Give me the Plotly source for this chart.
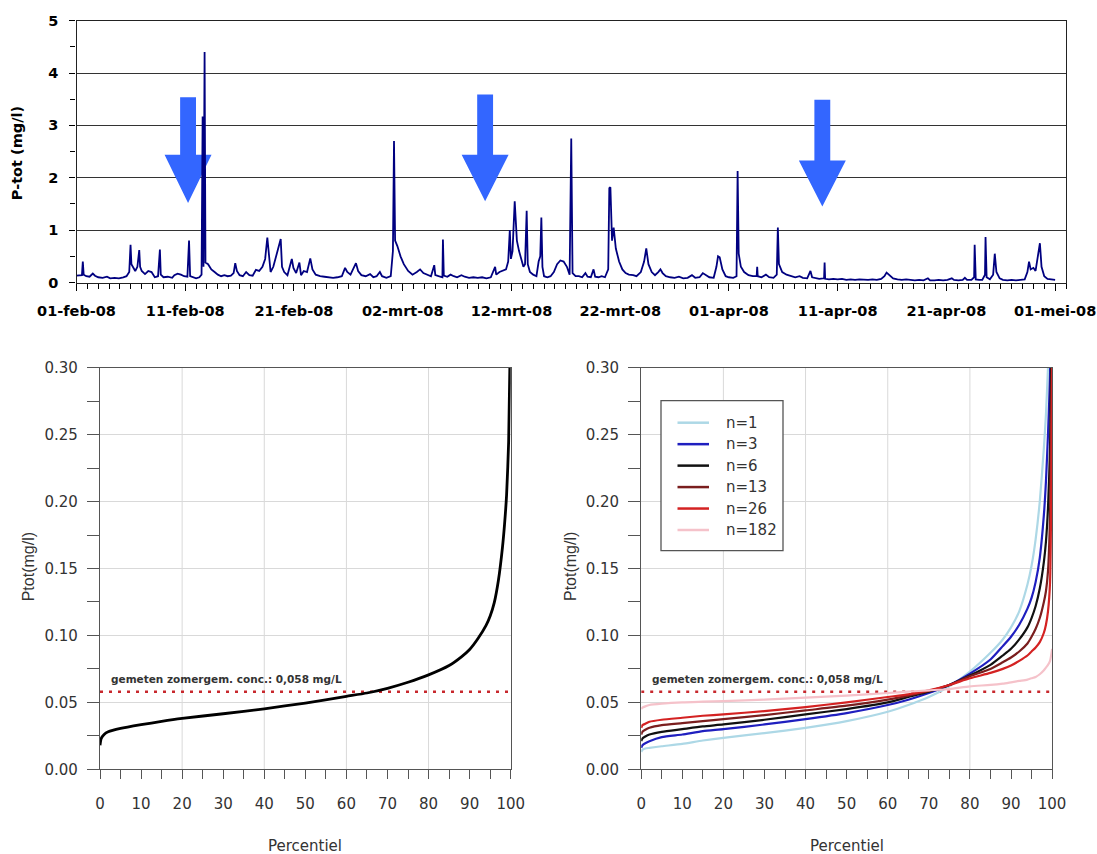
import pandas as pd
import plotly.graph_objects as go

W, H = 1097, 854

# ---------------------------------------------------------------
# P-tot time series, Feb - May 2008 (time in days since 01-feb-08)
# ---------------------------------------------------------------
start = pd.Timestamp("2008-02-01")

t_days = [
    0.00, 0.50, 0.58, 0.66, 0.9, 1.2, 1.5, 1.7, 2.0, 2.4, 2.8, 3.1, 3.5, 3.9,
    4.3, 4.6, 4.85, 4.97, 5.05, 5.2, 5.4, 5.6, 5.77, 5.85, 6.0, 6.3, 6.6, 6.9,
    7.2, 7.5, 7.67, 7.75, 8.0, 8.4, 8.8, 9.0, 9.3, 9.6, 9.9, 10.2, 10.35, 10.45,
    10.7, 11.0, 11.3, 11.5, 11.6, 11.68, 11.78, 11.86, 12.1, 12.4, 12.7, 13.0,
    13.3, 13.6, 13.9, 14.2, 14.45, 14.6, 14.75, 15.0, 15.3, 15.6, 15.9, 16.2,
    16.5, 16.8, 17.1, 17.35, 17.55, 17.7, 17.85, 18.1, 18.3, 18.78, 18.9, 19.1,
    19.4, 19.6, 19.8, 19.95, 20.2, 20.5, 20.65, 20.9, 21.2, 21.5, 21.7, 22.0,
    22.4, 22.8, 23.2, 23.6, 24.0, 24.4, 24.7, 24.9, 25.2, 25.5, 25.7, 25.9,
    26.2, 26.6, 27.0, 27.3, 27.6, 27.9, 28.1, 28.5, 28.9, 29.1, 29.2, 29.3,
    29.5, 29.8, 30.1, 30.5, 30.9, 31.3, 31.6, 31.9, 32.3, 32.6, 32.9, 33.0,
    33.3, 33.65, 33.7, 33.78, 34.1, 34.4, 34.7, 35.0, 35.4, 35.7, 36.1, 36.5,
    36.9, 37.3, 37.7, 38.1, 38.5, 38.6, 38.9, 39.2, 39.5, 39.7, 39.85, 39.95,
    40.1, 40.3, 40.4, 40.5, 40.7, 40.9, 41.1, 41.25, 41.4, 41.5, 41.7, 42.0,
    42.3, 42.5, 42.65, 42.75, 42.85, 43.0, 43.3, 43.6, 43.9, 44.2, 44.5, 44.8,
    45.1, 45.35, 45.5, 45.62, 45.9, 46.2, 46.5, 46.8, 47.0, 47.3, 47.55, 47.7,
    48.0, 48.3, 48.6, 48.9, 49.0, 49.1, 49.25, 49.4, 49.6, 49.9, 50.2, 50.5,
    50.8, 51.2, 51.5, 51.9, 52.2, 52.4, 52.6, 52.9, 53.2, 53.5, 53.7, 53.9,
    54.2, 54.6, 55.0, 55.4, 55.8, 56.2, 56.6, 56.9, 57.3, 57.6, 57.8, 58.2,
    58.6, 58.85, 59.0, 59.15, 59.4, 59.7, 60.0, 60.4, 60.7, 60.8, 60.9, 61.1,
    61.4, 61.8, 62.2, 62.55, 62.6, 62.65, 63.0, 63.4, 63.7, 64.1, 64.4, 64.5,
    64.6, 64.9, 65.3, 65.7, 66.1, 66.5, 66.8, 67.2, 67.5, 67.65, 68.0, 68.3,
    68.75, 68.8, 68.85, 69.2, 69.6, 70.0, 70.4, 70.8, 71.2, 71.6, 72.0, 72.4,
    72.8, 73.2, 73.6, 74.0, 74.3, 74.5, 74.8, 75.1, 75.5, 75.9, 76.3, 76.7,
    77.1, 77.5, 77.9, 78.3, 78.5, 78.9, 79.3, 79.7, 80.1, 80.5, 80.7, 81.1,
    81.5, 81.7, 81.9, 82.3, 82.55, 82.6, 82.7, 83.0, 83.3, 83.55, 83.6, 83.7,
    84.0, 84.3, 84.45, 84.6, 84.9, 85.2, 85.6, 86.0, 86.4, 86.8, 87.2, 87.45,
    87.6, 87.75, 88.0, 88.2, 88.4, 88.6, 88.75, 89.0, 89.3, 89.6, 90.0,
]

ptot = [
    0.13, 0.14, 0.40, 0.15, 0.12, 0.11, 0.17, 0.13, 0.10, 0.09, 0.11, 0.08, 0.09, 0.08,
    0.10, 0.12, 0.20, 0.72, 0.35, 0.30, 0.22, 0.30, 0.62, 0.30, 0.22, 0.16, 0.22, 0.20,
    0.10, 0.12, 0.63, 0.15, 0.10, 0.11, 0.09, 0.14, 0.17, 0.15, 0.12, 0.11, 0.80, 0.12,
    0.10, 0.08, 0.10, 0.15, 3.17, 0.30, 4.40, 0.38, 0.35, 0.25, 0.20, 0.15,
    0.12, 0.14, 0.12, 0.13, 0.18, 0.37, 0.22, 0.14, 0.12, 0.20, 0.14, 0.13,
    0.24, 0.22, 0.30, 0.45, 0.86, 0.50, 0.20, 0.30, 0.45, 0.83, 0.30, 0.20,
    0.14, 0.30, 0.45, 0.28, 0.18, 0.38, 0.14, 0.22, 0.20, 0.46, 0.25, 0.15,
    0.12, 0.11, 0.10, 0.09, 0.10, 0.12, 0.28, 0.20, 0.15, 0.30, 0.37, 0.22,
    0.14, 0.12, 0.16, 0.10, 0.12, 0.20, 0.12, 0.09, 0.12, 0.60, 2.70, 0.80,
    0.70, 0.50, 0.35, 0.22, 0.15, 0.20, 0.25, 0.18, 0.14, 0.12, 0.33, 0.14,
    0.12, 0.10, 0.82, 0.13, 0.11, 0.15, 0.12, 0.10, 0.14, 0.11, 0.09, 0.10,
    0.09, 0.10, 0.08, 0.10, 0.30, 0.15, 0.20, 0.22, 0.25, 0.40, 1.00, 0.45,
    0.60, 1.55, 1.10, 0.80, 0.60, 0.45, 0.30, 0.35, 1.37, 0.35, 0.20, 0.15,
    0.12, 0.40, 0.50, 1.24, 0.30, 0.12, 0.10, 0.12, 0.20, 0.35, 0.42, 0.40,
    0.30, 0.15, 2.75, 0.18, 0.12, 0.12, 0.10, 0.18, 0.11, 0.10, 0.25, 0.11,
    0.10, 0.12, 0.10, 0.25, 1.80, 1.82, 0.80, 1.05, 0.65, 0.40, 0.25, 0.18,
    0.15, 0.14, 0.12, 0.20, 0.40, 0.65, 0.35, 0.20, 0.14, 0.20, 0.25, 0.18,
    0.12, 0.10, 0.09, 0.11, 0.08, 0.09, 0.14, 0.09, 0.10, 0.18, 0.15, 0.10,
    0.09, 0.30, 0.50, 0.48, 0.25, 0.12, 0.10, 0.09, 0.12, 2.13, 0.55, 0.30,
    0.20, 0.14, 0.12, 0.12, 0.30, 0.12, 0.10, 0.15, 0.10, 0.09, 0.15, 1.05,
    0.35, 0.20, 0.15, 0.12, 0.10, 0.12, 0.09, 0.08, 0.22, 0.10, 0.08, 0.07,
    0.08, 0.38, 0.07, 0.06, 0.07, 0.06, 0.07, 0.05, 0.06, 0.05, 0.06, 0.05,
    0.05, 0.06, 0.05, 0.07, 0.12, 0.19, 0.13, 0.08, 0.06, 0.05, 0.06, 0.05,
    0.04, 0.05, 0.04, 0.08, 0.04, 0.04, 0.05, 0.04, 0.05, 0.08, 0.05, 0.04,
    0.05, 0.09, 0.05, 0.05, 0.10, 0.72, 0.06, 0.05, 0.05, 0.15, 0.87, 0.10,
    0.06, 0.15, 0.55, 0.20, 0.08, 0.05, 0.04, 0.05, 0.04, 0.05, 0.06, 0.20,
    0.40, 0.25, 0.28, 0.22, 0.45, 0.75, 0.30, 0.12, 0.07, 0.06, 0.05,
]

tick_dates = ["2008-02-01", "2008-02-11", "2008-02-21", "2008-03-02", "2008-03-12",
              "2008-03-22", "2008-04-01", "2008-04-11", "2008-04-21", "2008-05-01"]
tick_text = ["01-feb-08", "11-feb-08", "21-feb-08", "02-mrt-08", "12-mrt-08",
             "22-mrt-08", "01-apr-08", "11-apr-08", "21-apr-08", "01-mei-08"]

# sampling moments marked with arrows (day offset, top / neck / tip level in mg/l)
arrow_day = [10.26, 37.58, 68.59]
arrow_top = [3.54, 3.59, 3.49]
arrow_neck = [2.44, 2.44, 2.33]
arrow_tip = [1.52, 1.55, 1.45]

# ---------------------------------------------------------------
# Percentile curves
# ---------------------------------------------------------------
pct = [0, 0.3, 1, 2, 5, 10, 15, 20, 30, 40, 50, 60, 65, 70, 75, 80, 85, 88,
       90, 92, 94, 95, 96, 97, 98, 98.5, 99, 99.5, 100]

ptot_pct = [0.018, 0.023, 0.026, 0.028, 0.0305, 0.0333, 0.0358, 0.038, 0.0415,
            0.0452, 0.0495, 0.0545, 0.057, 0.0605, 0.065, 0.0705, 0.0775, 0.084,
            0.0895, 0.0975, 0.1075, 0.1145, 0.1245, 0.141, 0.166, 0.183, 0.205,
            0.245, 0.34]

n_labels = ["n=1", "n=3", "n=6", "n=13", "n=26", "n=182"]
n_colors = ["#add8e6", "#1f1fbf", "#111111", "#7a1e1e", "#d42222", "#f5c2ca"]

pct_n1 = [0.013, 0.0145, 0.0155, 0.016, 0.0172, 0.019, 0.0215, 0.0235, 0.027,
          0.031, 0.036, 0.043, 0.048, 0.054, 0.062, 0.073, 0.087, 0.097,
          0.106, 0.118, 0.138, 0.152, 0.172, 0.20, 0.24, 0.265, 0.30, 0.34, 0.45]
pct_n3 = [0.016, 0.018, 0.0195, 0.021, 0.024, 0.026, 0.0285, 0.030, 0.0335,
          0.0375, 0.042, 0.048, 0.052, 0.057, 0.063, 0.0715, 0.082, 0.092,
          0.099, 0.108, 0.12, 0.128, 0.14, 0.158, 0.19, 0.215, 0.25, 0.295, 0.40]
pct_n6 = [0.021, 0.023, 0.0245, 0.026, 0.028, 0.030, 0.032, 0.0335, 0.037,
          0.041, 0.045, 0.050, 0.054, 0.058, 0.063, 0.070, 0.078, 0.085,
          0.090, 0.097, 0.106, 0.113, 0.122, 0.135, 0.155, 0.17, 0.195, 0.24, 0.36]
pct_n13 = [0.026, 0.028, 0.0295, 0.031, 0.033, 0.0345, 0.036, 0.0375, 0.0405,
           0.044, 0.0475, 0.052, 0.055, 0.0585, 0.063, 0.0695, 0.075, 0.080,
           0.0835, 0.088, 0.094, 0.099, 0.105, 0.113, 0.125, 0.133, 0.148, 0.19, 0.32]
pct_n26 = [0.031, 0.033, 0.034, 0.0355, 0.037, 0.0385, 0.040, 0.041, 0.0435,
           0.0465, 0.050, 0.054, 0.056, 0.059, 0.063, 0.068, 0.072, 0.075,
           0.0775, 0.081, 0.085, 0.088, 0.091, 0.095, 0.102, 0.108, 0.118, 0.14, 0.30]
pct_n182 = [0.045, 0.046, 0.047, 0.048, 0.049, 0.050, 0.0505, 0.051, 0.052,
            0.0535, 0.055, 0.057, 0.058, 0.059, 0.060, 0.062, 0.063, 0.064,
            0.065, 0.066, 0.067, 0.068, 0.069, 0.071, 0.074, 0.076, 0.078, 0.081, 0.09]

zomer_conc = 0.058
zomer_label = "gemeten zomergem. conc.: 0,058 mg/L"

# ---------------------------------------------------------------
# helpers: pixel position -> paper fraction
# ---------------------------------------------------------------
def fx(px):
    return px / W


def fy(py):
    return 1 - py / H


BOLD = dict(family="DejaVu Sans", size=14.5, color="black", weight="bold")
TICK = dict(family="DejaVu Sans", size=15, color="#333333")

fig = go.Figure()

# arrows (drawn first so the series lies on top)
HS, HH = 0.73, 2.16  # half widths of shaft and head, in days
for d, top, neck, tip in zip(arrow_day, arrow_top, arrow_neck, arrow_tip):
    xs = [d - HS, d + HS, d + HS, d + HH, d, d - HH, d - HS, d - HS]
    ys = [top, top, neck, neck, tip, neck, neck, top]
    fig.add_trace(go.Scatter(
        x=start + pd.to_timedelta(xs, unit="D"), y=ys, mode="lines",
        fill="toself", fillcolor="#3366ff", line=dict(width=0, color="#3366ff"),
        hoverinfo="skip", showlegend=False, xaxis="x", yaxis="y"))

fig.add_trace(go.Scatter(
    x=start + pd.to_timedelta(t_days, unit="D"), y=ptot, mode="lines",
    line=dict(color="#000080", width=1.8), showlegend=False,
    xaxis="x", yaxis="y"))

# left percentile plot
fig.add_trace(go.Scatter(
    x=[0, 100], y=[zomer_conc, zomer_conc], mode="lines",
    line=dict(color="#c8282d", width=2.5, dash="3px,6px"),
    showlegend=False, xaxis="x2", yaxis="y2"))
fig.add_trace(go.Scatter(
    x=pct, y=ptot_pct, mode="lines",
    line=dict(color="black", width=2.8, shape="spline", smoothing=0.6),
    showlegend=False, xaxis="x2", yaxis="y2"))

# right percentile plot
series_n = [pct_n1, pct_n3, pct_n6, pct_n13, pct_n26, pct_n182]
fig.add_trace(go.Scatter(
    x=[0, 100], y=[zomer_conc, zomer_conc], mode="lines",
    line=dict(color="#c8282d", width=2.5, dash="3px,6px"),
    showlegend=False, xaxis="x3", yaxis="y3"))
for lab, col, vals in zip(n_labels, n_colors, series_n):
    fig.add_trace(go.Scatter(
        x=pct, y=vals, mode="lines", name=lab,
        line=dict(color=col, width=2.2, shape="spline", smoothing=0.6),
        showlegend=False, xaxis="x3", yaxis="y3"))

shapes = []
annotations = []

# vertical grid every 20 percent on both percentile plots
for xr, yr in (("x2", "y2 domain"), ("x3", "y3 domain")):
    for g in (20, 40, 60, 80):
        shapes.append(dict(type="line", xref=xr, yref=yr, x0=g, x1=g, y0=0, y1=1,
                           line=dict(color="#d9d9d9", width=1), layer="below"))
    annotations.append(dict(xref=xr, yref=yr.split()[0], x=2.1, y=0.0677,
                            text=zomer_label, showarrow=False, xanchor="left",
                            yanchor="middle",
                            font=dict(family="DejaVu Sans", size=10.5,
                                      color="#333333", weight="bold")))

# legend box of the right plot
lx0, lx1, ly0, ly1 = 661, 783, 400.7, 550.7
shapes.append(dict(type="rect", xref="paper", yref="paper",
                   x0=fx(lx0), x1=fx(lx1), y0=fy(ly1), y1=fy(ly0),
                   line=dict(color="#555555", width=1.3), fillcolor="white"))
for i, (lab, col) in enumerate(zip(n_labels, n_colors)):
    ry = 422.7 + i * 21.46
    shapes.append(dict(type="line", xref="paper", yref="paper",
                       x0=fx(677.5), x1=fx(709), y0=fy(ry), y1=fy(ry),
                       line=dict(color=col, width=2.5)))
    annotations.append(dict(xref="paper", yref="paper", x=fx(724), y=fy(ry),
                            text=lab, showarrow=False, xanchor="left",
                            yanchor="middle",
                            font=dict(family="DejaVu Sans", size=15, color="#333333")))

# axis titles
annotations.append(dict(xref="paper", yref="paper", x=fx(16.7), y=fy(153.5),
                        text="P-tot (mg/l)", textangle=-90, showarrow=False,
                        xanchor="center", yanchor="middle", font=BOLD))
for cx, tx in ((305.3, 28.3), (846.6, 570)):
    annotations.append(dict(xref="paper", yref="paper", x=fx(cx), y=fy(846),
                            text="Percentiel", showarrow=False,
                            xanchor="center", yanchor="middle", font=TICK))
    annotations.append(dict(xref="paper", yref="paper", x=fx(tx), y=fy(567),
                            text="Ptot(mg/l)", textangle=-90, showarrow=False,
                            xanchor="center", yanchor="middle",
                            font=dict(family="Liberation Sans", size=16,
                                      color="#333333")))

pct_ticks = list(range(0, 101, 10))

bottom_x = dict(range=[0, 100], tickvals=pct_ticks, ticks="outside", ticklen=9,
                tickcolor="#555555", tickwidth=1.2,
                minor=dict(dtick=5, tick0=0, ticks="outside", ticklen=9,
                           tickcolor="#555555", tickwidth=1.2),
                showgrid=False, zeroline=False, showline=True, mirror=True,
                linecolor="#555555", linewidth=1.3, tickfont=TICK,
                ticklabelstandoff=12, automargin=False)
bottom_y = dict(range=[0, 0.30], dtick=0.05, tick0=0, tickformat=".2f",
                ticks="outside", ticklen=12, tickcolor="#555555", tickwidth=1.2,
                minor=dict(dtick=0.025, tick0=0, ticks="outside", ticklen=12,
                           tickcolor="#555555", tickwidth=1.2),
                showgrid=True, gridcolor="#d9d9d9", gridwidth=1, zeroline=False,
                showline=True, mirror=True, linecolor="#555555", linewidth=1.3,
                tickfont=TICK, ticklabelstandoff=6, automargin=False)

fig.update_layout(
    width=W, height=H, autosize=False,
    margin=dict(l=0, r=0, t=0, b=0),
    paper_bgcolor="white", plot_bgcolor="white",
    showlegend=False,
    xaxis=dict(type="date", domain=[fx(76.5), fx(1066)], anchor="y",
               range=[start, start + pd.Timedelta(days=91)],
               tickvals=tick_dates, ticktext=tick_text,
               ticks="outside", ticklen=7, tickcolor="black", tickwidth=1.2,
               minor=dict(dtick=86400000, tick0="2008-02-01", ticks="outside",
                          ticklen=5, tickcolor="black", tickwidth=1),
               showgrid=False, zeroline=False, showline=True, mirror=True,
               linecolor="#222222", linewidth=1.3, tickfont=BOLD,
               ticklabelstandoff=8, automargin=False),
    yaxis=dict(domain=[fy(282.5), fy(20.7)], anchor="x", range=[0, 5], dtick=1,
               ticks="outside", ticklen=6, tickcolor="black", tickwidth=1.2,
               minor=dict(dtick=0.5, ticks="outside", ticklen=5,
                          tickcolor="black", tickwidth=1),
               showgrid=True, gridcolor="#333333", gridwidth=1.2, zeroline=False,
               showline=True, mirror=True, linecolor="#222222", linewidth=1.3,
               tickfont=BOLD, ticklabelstandoff=8, automargin=False),
    xaxis2=dict(domain=[fx(100), fx(510.7)], anchor="y2", **bottom_x),
    yaxis2=dict(domain=[fy(769.3), fy(367.7)], anchor="x2", **bottom_y),
    xaxis3=dict(domain=[fx(641.2), fx(1052.1)], anchor="y3", **bottom_x),
    yaxis3=dict(domain=[fy(769.3), fy(367.7)], anchor="x3", **bottom_y),
    shapes=shapes,
    annotations=annotations,
)

fig.write_html("out.html")
